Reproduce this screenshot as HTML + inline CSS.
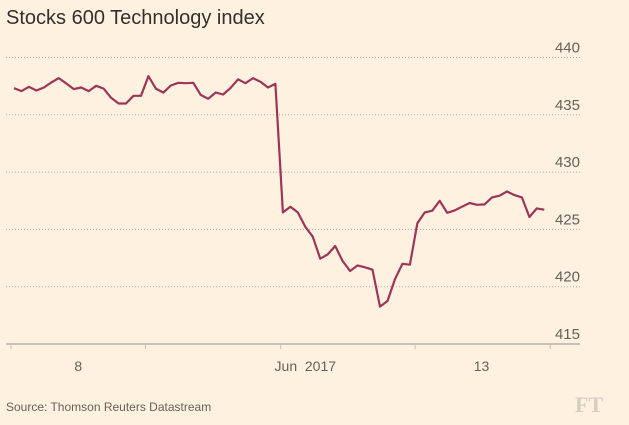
<!DOCTYPE html>
<html><head><meta charset="utf-8"><style>
body{margin:0;background:#fff1e0;}
svg{display:block;font-family:"Liberation Sans",sans-serif;}
</style></head><body>
<svg id="chart" width="629" height="425" xmlns="http://www.w3.org/2000/svg">
<rect width="629" height="425" fill="#fff1e0"/>
<text x="6" y="24" font-size="20" fill="#33302e">Stocks 600 Technology index</text>
<g id="grid"></g>
<g id="xaxis"></g>
<path id="line" fill="none" stroke="#9e3558" stroke-width="2.2" stroke-linejoin="round"/>
<text x="6" y="411" font-size="12" fill="#66605c">Source: Thomson Reuters Datastream</text>
<text x="575" y="412" font-size="22" font-family="Liberation Serif,serif" fill="#d8cdc0" font-weight="bold">FT</text>
</svg>
<script>
const values=[437.33,437.07,437.44,437.12,437.38,437.82,438.2,437.73,437.24,437.38,437.07,437.53,437.29,436.48,435.99,435.99,436.66,436.66,438.37,437.29,436.94,437.56,437.79,437.76,437.79,436.74,436.4,436.95,436.77,437.35,438.1,437.76,438.2,437.88,437.38,437.7,426.48,426.98,426.48,425.23,424.36,422.44,422.82,423.55,422.24,421.37,421.86,421.69,421.48,418.26,418.75,420.64,422.0,421.92,425.52,426.48,426.63,427.5,426.45,426.66,426.98,427.3,427.15,427.18,427.79,427.94,428.31,427.99,427.79,426.08,426.83,426.72];
const yTicks=[415,420,425,430,435,440];
const xTickLabels=["8","Jun  2017","13"];
const xTickLabelPos=[8.6,39.0,62.6];
const xTickMarks=[-0.4,17.6,35.7,53.7,71.8];
const NS="http://www.w3.org/2000/svg";
const x0=14,x1=544.3,n=values.length;
function xs(i){return x0+(x1-x0)*i/(n-1);}
function ys(v){return 344-(v-415)*11.46;}
const grid=document.getElementById('grid');
yTicks.forEach(t=>{
  if(t>415){
    const l=document.createElementNS(NS,'line');
    
    
    l.setAttribute('x1',6);l.setAttribute('x2',580);l.setAttribute('y1',ys(t));l.setAttribute('y2',ys(t));
    l.setAttribute('stroke','#b5aba3');l.setAttribute('stroke-dasharray','1 2');l.setAttribute('stroke-width','1');
    grid.appendChild(l);
  }
  const tx=document.createElementNS(NS,'text');
  
  
  tx.setAttribute('x',580);tx.setAttribute('y',ys(t)-5);tx.setAttribute('text-anchor','end');
  tx.setAttribute('font-size','15');tx.setAttribute('fill','#66605c');
  tx.textContent=t;grid.appendChild(tx);
});
const xa=document.getElementById('xaxis');
const ax=document.createElementNS(NS,'line');


ax.setAttribute('x1',6);ax.setAttribute('x2',580);ax.setAttribute('y1',344);ax.setAttribute('y2',344);
ax.setAttribute('stroke','#c8c0b8');ax.setAttribute('stroke-width','2');xa.appendChild(ax);
xTickMarks.forEach(p=>{
  const t=document.createElementNS(NS,'line');
  
  
  t.setAttribute('x1',xs(p));t.setAttribute('x2',xs(p));t.setAttribute('y1',344);t.setAttribute('y2',349);
  t.setAttribute('stroke','#c8c0b8');xa.appendChild(t);
});
xTickLabels.forEach((s,i)=>{
  const t=document.createElementNS(NS,'text');
  
  
  t.setAttribute('x',xs(xTickLabelPos[i]));t.setAttribute('y',371);t.setAttribute('text-anchor','middle');
  t.setAttribute('font-size','14');t.setAttribute('fill','#66605c');
  t.style.whiteSpace='pre';
  t.textContent=s;xa.appendChild(t);
});
document.getElementById('line').setAttribute('d',values.map((v,i)=>(i?'L':'M')+xs(i).toFixed(1)+','+ys(v).toFixed(1)).join(''));
</script>
</body></html>
